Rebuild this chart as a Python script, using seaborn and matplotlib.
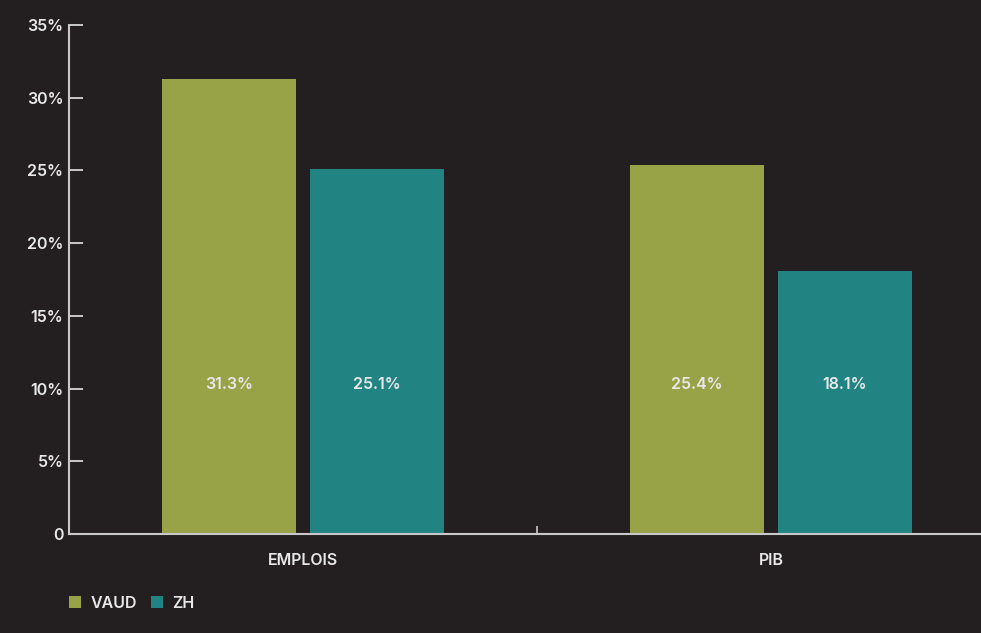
import matplotlib
matplotlib.use("Agg")
import matplotlib.pyplot as plt
import seaborn as sns
import pandas as pd
from matplotlib.ticker import FixedLocator
from matplotlib.patches import Patch

categories = ["EMPLOIS", "PIB"]
regions = ["VAUD", "ZH"]
vaud_values = [31.3, 25.4]
zh_values = [25.1, 18.1]
y_ticks = [0, 5, 10, 15, 20, 25, 30, 35]
y_tick_labels = ["0", "5%", "10%", "15%", "20%", "25%", "30%", "35%"]

bg = "#231F20"
fg = "#E8E8E8"
axis_col = "#C9C9C9"
palette = {"VAUD": "#98A246", "ZH": "#218483"}

df = pd.DataFrame({
    "cat": categories * 2,
    "region": ["VAUD"] * len(categories) + ["ZH"] * len(categories),
    "value": vaud_values + zh_values,
})

sns.set_theme(style="ticks")
plt.rcParams["font.family"] = ["Inter", "DejaVu Sans"]

fig = plt.figure(figsize=(9.81, 6.33), dpi=100, facecolor=bg)
ax = fig.add_axes([69 / 981, 1 - 534 / 633, 1 - 69 / 981, (534 - 25) / 633])
ax.set_facecolor(bg)

sns.barplot(data=df, x="cat", y="value", hue="region", order=categories,
            hue_order=regions, palette=palette, width=0.63, gap=0.09,
            saturation=1, linewidth=0, edgecolor="none", legend=False, ax=ax)

# value labels inside the bars
for container in ax.containers:
    for bar, val in zip(container, container.datavalues):
        ax.text(bar.get_x() + bar.get_width() / 2, 10.3, f"{val:.1f}%",
                ha="center", va="center", color=fg, fontsize=11.5,
                fontweight="semibold")

ax.set_xlim(-0.5, 1.449)
ax.set_ylim(0, 35)
ax.set_xlabel("")
ax.set_ylabel("")

ax.set_yticks(y_ticks)
ax.set_yticklabels(y_tick_labels)
ax.tick_params(axis="y", left=True, direction="in", length=10, width=1.4,
               color=axis_col, labelcolor=fg, labelsize=11.5, pad=4)

ax.set_xticks(range(len(categories)))
ax.set_xticklabels(categories)
ax.tick_params(axis="x", which="major", length=0, labelcolor=fg,
               labelsize=11.5, pad=14)
ax.xaxis.set_minor_locator(FixedLocator([0.5]))
ax.tick_params(axis="x", which="minor", bottom=True, direction="in", length=6,
               width=1.2, color=axis_col)
for lbl in ax.get_xticklabels() + ax.get_yticklabels():
    lbl.set_fontweight("semibold")

for side in ["top", "right"]:
    ax.spines[side].set_visible(False)
for side in ["left", "bottom"]:
    ax.spines[side].set_color(axis_col)
    ax.spines[side].set_linewidth(1.5)

handles = [Patch(facecolor=palette[r], edgecolor="none", label=r) for r in regions]
leg = fig.legend(handles=handles, loc="center left",
                 bbox_to_anchor=(55 / 981, 1 - 603 / 633), ncol=2, frameon=False,
                 handlelength=0.75, handleheight=0.75, handletextpad=0.55,
                 columnspacing=0.9, fontsize=11.5)
for t in leg.get_texts():
    t.set_color(fg)
    t.set_fontweight("semibold")

fig.savefig("out.png", dpi=100, facecolor=bg)
